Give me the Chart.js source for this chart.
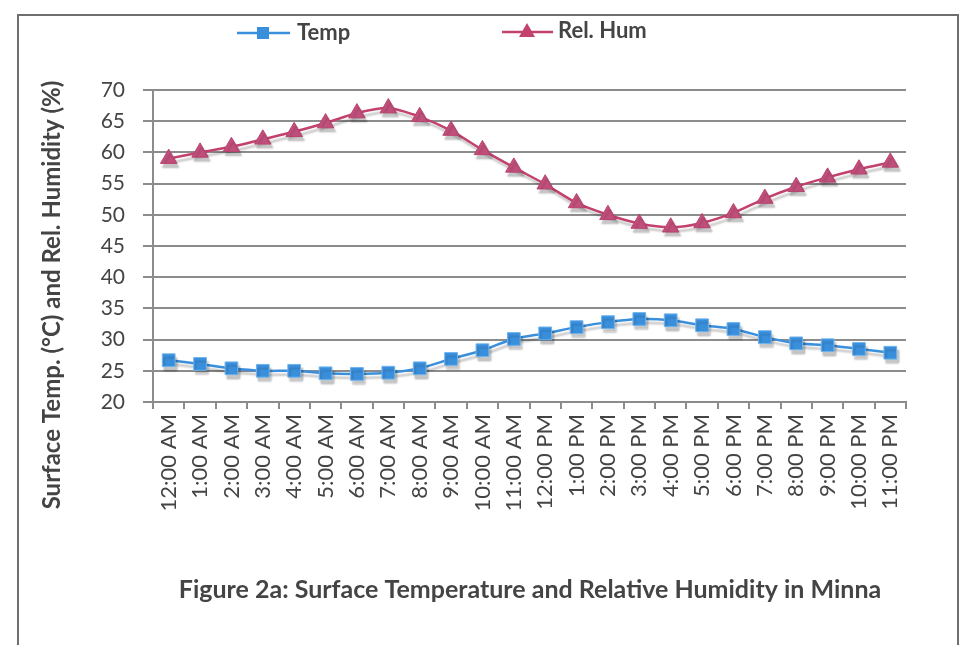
<!DOCTYPE html>
<html>
<head>
<meta charset="utf-8">
<script src="https://cdn.jsdelivr.net/npm/chart.js@4.4.1/dist/chart.umd.min.js"></script>
<style>
  html, body { margin: 0; padding: 0; background: #fff; }
  #frame {
    position: absolute; left: 17px; top: 14px; width: 938px; height: 700px;
    border: 2px solid #6f6f6f;
  }
  #wrap { position: absolute; left: 0; top: 0; width: 962px; height: 645px; }
</style>
</head>
<body>
<div id="frame"></div>
<div id="wrap"><canvas id="chart" width="962" height="645"></canvas></div>
<script>
const hours = [
  "12:00 AM", "1:00 AM", "2:00 AM", "3:00 AM", "4:00 AM", "5:00 AM",
  "6:00 AM", "7:00 AM", "8:00 AM", "9:00 AM", "10:00 AM", "11:00 AM",
  "12:00 PM", "1:00 PM", "2:00 PM", "3:00 PM", "4:00 PM", "5:00 PM",
  "6:00 PM", "7:00 PM", "8:00 PM", "9:00 PM", "10:00 PM", "11:00 PM",
];
const temp = [
  26.7, 26.1, 25.4, 25.0, 25.0, 24.6, 24.5, 24.7, 25.4, 26.9, 28.3, 30.1,
  31.0, 32.0, 32.8, 33.3, 33.1, 32.3, 31.7, 30.4, 29.4, 29.1, 28.5, 27.9,
];
const relHum = [
  59.0, 60.0, 60.9, 62.1, 63.3, 64.7, 66.3, 67.1, 65.7, 63.5, 60.4, 57.6,
  54.9, 51.9, 50.0, 48.6, 48.0, 48.7, 50.3, 52.6, 54.5, 56.0, 57.3, 58.4,
];
const yTicks = [20, 25, 30, 35, 40, 45, 50, 55, 60, 65, 70];

const textColor = "#444444";
const gridColor = "#8c8c8c";
const tempColor = "#3a8fdc";
const humColor = "#c2416d";
const figTitle = "Figure 2a: Surface Temperature and Relative Humidity in Minna";
const yTitle = "Surface Temp. (\u00b0C) and Rel. Humidity (%)";

// legend, y title and caption drawn by hand so they sit where the original has them
const extras = {
  id: "extras",
  afterDraw(chart) {
    const ctx = chart.ctx;
    ctx.save();
    ctx.font = "bold 22px Lato";
    ctx.textBaseline = "middle";

    // Temp entry
    ctx.strokeStyle = tempColor;
    ctx.lineWidth = 2.5;
    ctx.beginPath(); ctx.moveTo(237, 33); ctx.lineTo(290, 33); ctx.stroke();
    ctx.fillStyle = tempColor;
    ctx.fillRect(257, 27, 12, 12);
    ctx.fillStyle = textColor;
    ctx.textAlign = "left";
    ctx.fillText("Temp", 297, 33);

    // Rel. Hum entry
    ctx.strokeStyle = humColor;
    ctx.beginPath(); ctx.moveTo(502, 32); ctx.lineTo(553, 32); ctx.stroke();
    ctx.fillStyle = humColor;
    ctx.beginPath();
    ctx.moveTo(527, 23); ctx.lineTo(535, 37); ctx.lineTo(519, 37);
    ctx.closePath(); ctx.fill();
    ctx.fillStyle = textColor;
    ctx.fillText("Rel. Hum", 558, 31);

    // caption under the chart
    ctx.font = "bold 25px Lato";
    ctx.textAlign = "center";
    ctx.fillText(figTitle, 530, 590);

    // y axis title
    ctx.font = "bold 24px Lato";
    ctx.translate(52, 295);
    ctx.rotate(-Math.PI / 2);
    ctx.fillText(yTitle, 0, 0);
    ctx.restore();
  },
  beforeDatasetDraw(chart) {
    const ctx = chart.ctx;
    ctx.save();
    ctx.shadowColor = "rgba(0,0,0,0.22)";
    ctx.shadowOffsetX = 2;
    ctx.shadowOffsetY = 4;
    ctx.shadowBlur = 2;
  },
  afterDatasetDraw(chart) {
    chart.ctx.restore();
  },
};

Chart.defaults.color = textColor;
Chart.defaults.font.family = "Lato";

new Chart(document.getElementById("chart"), {
  type: "line",
  data: {
    labels: hours,
    datasets: [
      {
        label: "Temp",
        data: temp,
        borderColor: tempColor,
        backgroundColor: tempColor,
        borderWidth: 2.5,
        pointStyle: "rect",
        pointRadius: 9,
        pointBorderWidth: 1,
        pointBorderColor: "#6fb3ec",
        tension: 0.25,
      },
      {
        label: "Rel. Hum",
        data: relHum,
        borderColor: humColor,
        backgroundColor: "#c14f7c",
        borderWidth: 2.5,
        pointStyle: "triangle",
        pointRadius: 9.5,
        pointBorderWidth: 1,
        pointBorderColor: "#b8436f",
        tension: 0.25,
      },
    ],
  },
  options: {
    responsive: false,
    animation: false,
    layout: {
      padding: { top: 90, left: 20, right: 56, bottom: 69 },
    },
    scales: {
      x: {
        offset: true,
        afterFit: (scale) => { scale.height = 174; },
        grid: {
          offset: true,
          drawOnChartArea: false,
          drawTicks: true,
          tickLength: 7,
          color: gridColor,
          lineWidth: 2,
        },
        border: { color: gridColor, width: 2 },
        ticks: {
          minRotation: 90,
          maxRotation: 90,
          autoSkip: false,
          padding: 5,
          color: textColor,
          font: { size: 22 },
        },
      },
      y: {
        min: 20,
        max: 70,
        afterFit: (scale) => { scale.width = 133; },
        afterBuildTicks: (scale) => {
          scale.ticks = yTicks.map((v) => ({ value: v }));
        },
        grid: {
          color: gridColor,
          lineWidth: 2,
          tickLength: 10,
        },
        border: { color: gridColor, width: 2 },
        ticks: {
          padding: 18,
          color: textColor,
          font: { size: 21 },
        },
      },
    },
    plugins: {
      legend: { display: false },
      tooltip: { enabled: false },
      title: { display: false },
    },
  },
  plugins: [extras],
});
</script>
</body>
</html>
